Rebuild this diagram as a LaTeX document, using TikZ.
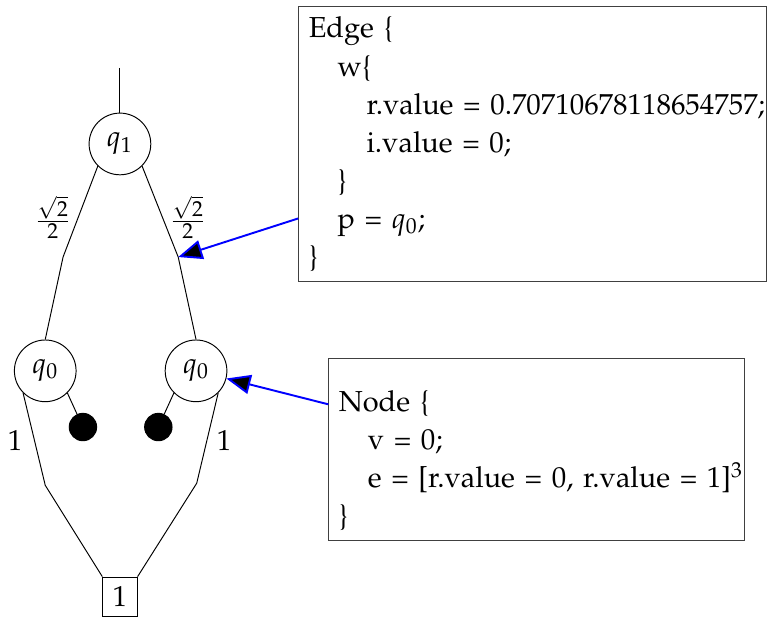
\documentclass[tikz,border=0pt]{standalone}
\usepackage[T1]{fontenc}
\usepackage{mathpazo}
\usepackage{amsmath}
\usetikzlibrary{arrows.meta}

\begin{document}
\begin{tikzpicture}[
    font=\fontsize{12}{15.8}\selectfont,
    state/.style={
        circle,
        draw=black,
        minimum size=0.9cm,
        inner sep=0pt
    },
    leaf/.style={
        rectangle,
        draw=black,
        minimum width=0.5cm,
        minimum height=0.58cm,
        inner sep=0pt
    },
    zero/.style={
        circle,
        draw=black,
        fill=black,
        minimum size=0.4cm,
        inner sep=0pt
    },
    infobox/.style={
        rectangle,
        draw=black!75,
        align=left,
        inner sep=4.2pt,
        anchor=north west
    },
    pointer/.style={
        -{Triangle[length=10pt,width=8pt,fill=black]},
        thick,
        draw=blue
    }
]
    \useasboundingbox (0,0) rectangle (11.19,-9.02);

    % Nodes
    \node (q1)   [state] at (1.75,-2.10) {$q_1$};
    \node (q0l)  [state] at (0.66,-5.41) {$q_0$};
    \node (q0r)  [state] at (2.86,-5.41) {$q_0$};
    \node (dotl) [zero]  at (1.21,-6.23) {};
    \node (dotr) [zero]  at (2.31,-6.23) {};
    \node (term) [leaf]  at (1.75,-8.71) {1};

    % Bends of the edges
    \coordinate (root)     at (1.75,-0.99);
    \coordinate (kinkl)    at (0.92,-3.75);
    \coordinate (kinkr)    at (2.60,-3.75);
    \coordinate (kinkonel) at (0.66,-7.08);
    \coordinate (kinkoner) at (2.87,-7.05);

    % Edges
    \draw (root) -- (q1);
    \draw (q1.south west) -- (kinkl) -- (q0l.north);
    \draw (q1.south east) -- (kinkr) -- (q0r.north);
    \draw (q0l.south east) -- (dotl);
    \draw (q0r.south west) -- (dotr);
    \draw (q0l.south west) -- (kinkonel) -- (term.north west);
    \draw (q0r.south east) -- (kinkoner) -- (term.north east);

    % Weights
    \node at (0.77,-3.17) {$\frac{\sqrt{2}}{2}$};
    \node at (2.74,-3.17) {$\frac{\sqrt{2}}{2}$};
    \node at (0.22,-6.42) {1};
    \node at (3.27,-6.42) {1};

    % Boxes
    \node (edgebox) [infobox, text width=6.53cm, minimum height=4.01cm] at (4.35,-0.09) {%
        Edge \{\\
        \hspace*{1em}w\{\\
        \hspace*{2em}\mbox{r.value = 0.70710678118654757;}\\
        \hspace*{2em}i.value = 0;\\
        \hspace*{1em}\}\\
        \hspace*{1em}p = $q_0$;\\
        \}};
    \node (nodebox) [infobox, text width=5.77cm, minimum height=2.55cm] at (4.79,-5.22) {%
        \rule{0pt}{18pt}Node \{\\
        \hspace*{1em}v = 0;\\
        \hspace*{1em}\mbox{e = [r.value = 0, r.value = 1]$^3$}\\
        \}};

    % Arrows
    \draw [pointer] ([yshift=-1.085cm]edgebox.west) -- (kinkr);
    \draw [pointer] ([yshift=0.66cm]nodebox.west)  -- (q0r);

\end{tikzpicture}
\end{document}
